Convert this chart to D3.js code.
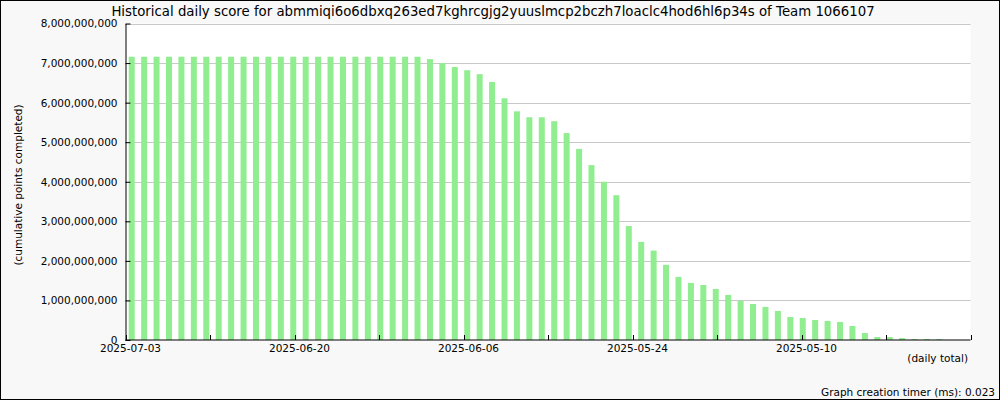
<!DOCTYPE html>
<html>
<head>
<meta charset="utf-8">
<script src="https://cdn.jsdelivr.net/npm/d3@7"></script>
<style>
  html, body { margin: 0; padding: 0; background: #f8f8f8; }
  svg { display: block; }
  text { font-family: "DejaVu Sans", sans-serif; fill: #000; }
</style>
</head>
<body>
<svg id="chart" width="1000" height="400"></svg>
<script>
// ---- data ----
const titleText = "Historical daily score for abmmiqi6o6dbxq263ed7kghrcgjg2yuuslmcp2bczh7loaclc4hod6hl6p34s of Team 1066107";
const yAxisLabel = "(cumulative points completed)";
const xAxisLabel = "(daily total)";
const footerText = "Graph creation timer (ms): 0.023";

// dates run backward from 2025-07-03, one per day
const firstDate = "2025-07-03";
const dayCount = 68;

const scores = [
  7160000000, 7160000000, 7160000000, 7160000000, 7160000000, 7160000000,
  7160000000, 7160000000, 7160000000, 7160000000, 7160000000, 7160000000,
  7160000000, 7160000000, 7160000000, 7160000000, 7160000000, 7160000000,
  7160000000, 7160000000, 7160000000, 7160000000, 7160000000, 7160000000,
  7100000000, 7000000000, 6900000000, 6820000000, 6720000000, 6520000000,
  6110000000, 5780000000, 5630000000, 5630000000, 5530000000, 5230000000,
  4830000000, 4420000000, 4000000000, 3660000000, 2880000000, 2480000000,
  2260000000, 1900000000, 1595000000, 1443000000, 1390000000, 1290000000,
  1140000000, 990000000, 910000000, 835000000, 734000000, 582000000,
  557000000, 506000000, 481000000, 456000000, 354000000, 177000000,
  76000000, 76000000, 50000000, 25000000, 25000000, 22000000,
  0, 0
];

const yTicks = [0, 1e9, 2e9, 3e9, 4e9, 5e9, 6e9, 7e9, 8e9];
const xTickCount = 10;            // equal divisions of the date axis
const xTickLabels = ["2025-07-03", "2025-06-20", "2025-06-06", "2025-05-24", "2025-05-10"];

// ---- layout ----
const W = 1000, H = 400;
const mLeft = 125.5, mRight = 970.5, mTop = 23.5, mBottom = 340;

const parse = d3.timeParse("%Y-%m-%d");
const fmt = d3.timeFormat("%Y-%m-%d");
const start = parse(firstDate);
const dates = d3.range(dayCount).map(i => fmt(d3.timeDay.offset(start, -i)));

const svg = d3.select("#chart");

svg.append("rect").attr("x", 0.5).attr("y", 0.5).attr("width", W - 1).attr("height", H - 1)
  .attr("fill", "#f8f8f8").attr("stroke", "#000");

const x = d3.scaleBand().domain(dates).range([mLeft, mRight]).paddingInner(0.517).paddingOuter(0.2585);
const y = d3.scaleLinear().domain([0, 8e9]).range([mBottom, mTop]);
const xt = d3.scaleLinear().domain([0, xTickCount]).range([mLeft, mRight]);

// plot background
svg.append("rect").attr("x", mLeft).attr("y", mTop).attr("width", mRight - mLeft).attr("height", mBottom - mTop)
  .attr("fill", "#fff");

// gridlines
svg.append("g").selectAll("line").data(yTicks.filter(d => d > 0)).join("line")
  .attr("x1", mLeft).attr("x2", mRight)
  .attr("y1", d => Math.round(y(d)) + 0.5).attr("y2", d => Math.round(y(d)) + 0.5)
  .attr("stroke", "#c8c8c8").attr("stroke-width", 1);

// bars
svg.append("g").selectAll("rect").data(scores.map((v, i) => ({ date: dates[i], v }))).join("rect")
  .attr("x", d => x(d.date))
  .attr("width", x.bandwidth())
  .attr("y", d => y(d.v))
  .attr("height", d => mBottom - y(d.v))
  .attr("fill", "#90ee90");

// y axis
const yAxis = d3.axisLeft(y).tickValues(yTicks).tickFormat(d3.format(",")).tickSizeInner(-5).tickSizeOuter(0).tickPadding(8);
const gy = svg.append("g").attr("transform", `translate(${mLeft},0)`).call(yAxis);
gy.select(".domain").attr("stroke", "#000");
gy.selectAll("line").attr("stroke", "#000");
gy.selectAll("text").attr("font-size", "10.5px").attr("font-family", "DejaVu Sans, sans-serif");

// x axis
const gx = svg.append("g").attr("transform", `translate(0,${mBottom})`);
gx.append("line").attr("x1", mLeft).attr("x2", mRight).attr("y1", 0).attr("y2", 0).attr("stroke", "#000");
gx.selectAll("line.tick").data(d3.range(xTickCount + 1)).join("line").attr("class", "tick")
  .attr("x1", d => Math.round(xt(d)) + 0.5).attr("x2", d => Math.round(xt(d)) + 0.5)
  .attr("y1", 0).attr("y2", -5).attr("stroke", "#000");
gx.selectAll("text").data(xTickLabels).join("text")
  .attr("x", (d, i) => xt(i * 2) + 5)
  .attr("y", 12)
  .attr("text-anchor", "middle")
  .attr("font-size", "10.5px")
  .text(d => d);

// labels
svg.append("text").attr("x", 493).attr("y", 16).attr("text-anchor", "middle")
  .attr("font-size", "13.3px").text(titleText);
svg.append("text").attr("transform", "translate(22,185) rotate(-90)").attr("text-anchor", "middle")
  .attr("font-size", "10.5px").text(yAxisLabel);
svg.append("text").attr("x", 968).attr("y", 362).attr("text-anchor", "end")
  .attr("font-size", "10.5px").text(xAxisLabel);
svg.append("text").attr("x", 995).attr("y", 396).attr("text-anchor", "end")
  .attr("font-size", "10.5px").text(footerText);
</script>
</body>
</html>
